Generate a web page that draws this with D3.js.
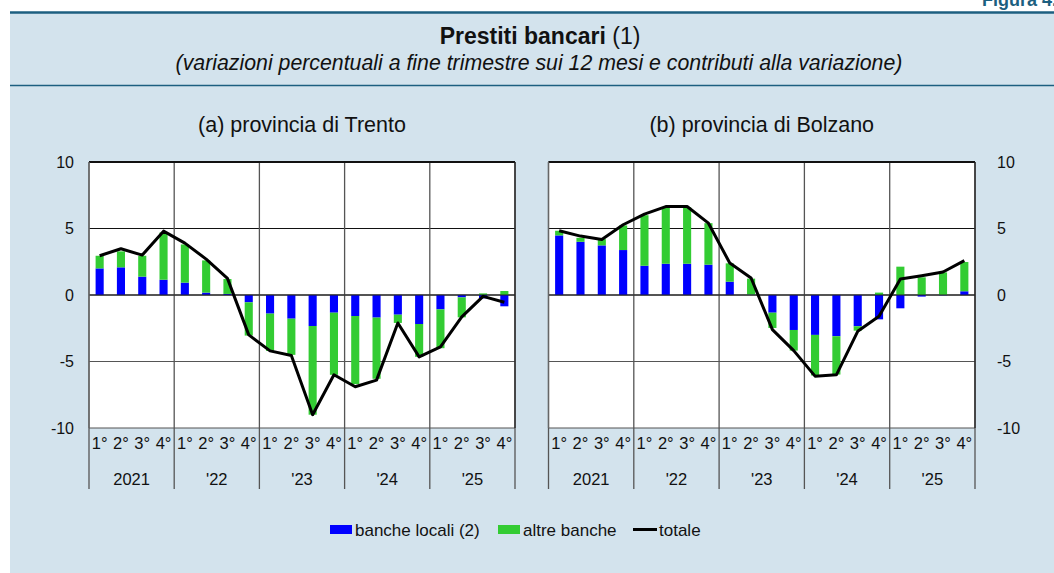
<!DOCTYPE html>
<html>
<head>
<meta charset="utf-8">
<script src="https://cdn.jsdelivr.net/npm/d3@7"></script>
<style>
body { margin: 0; background: #fff; }
svg { display: block; font-family: Arial, "Liberation Sans", sans-serif; }
</style>
</head>
<body>
<div id="chart"></div>
<script>
// quarters and years on the x axis
var quarters = ["1°", "2°", "3°", "4°"];
var years = ["2021", "'22", "'23", "'24", "'25"];

// (a) provincia di Trento
var trentoLocali = [2.0, 2.08, 1.38, 1.15, 0.93, 0.18, 0.08, -0.55, -1.4, -1.78, -2.33, -1.33, -1.58, -1.7, -1.48, -2.18, -1.08, -0.18, -0.25, -0.85];
var trentoAltre = [0.95, 1.2, 1.57, 3.55, 2.87, 2.42, 1.12, -2.5, -2.8, -2.72, -6.67, -4.67, -5.12, -4.6, -0.62, -2.47, -2.92, -1.5, 0.12, 0.3];
var trentoTotale = [2.95, 3.48, 3.0, 4.8, 3.9, 2.7, 1.25, -3.0, -4.2, -4.55, -9.0, -6.0, -6.9, -6.4, -2.1, -4.65, -3.9, -1.65, -0.1, -0.55];

// (b) provincia di Bolzano
var bolzanoLocali = [4.48, 4.0, 3.73, 3.38, 2.2, 2.35, 2.35, 2.28, 1.0, 0.03, -1.33, -2.63, -3.0, -3.1, -2.35, -1.83, -1.0, -0.12, -0.02, 0.28];
var bolzanoAltre = [0.35, 0.3, 0.47, 1.85, 3.8, 4.25, 4.25, 3.12, 1.38, 1.2, -1.15, -1.55, -3.05, -2.88, -0.33, 0.18, 2.13, 1.33, 1.7, 2.2];
var bolzanoTotale = [4.83, 4.43, 4.18, 5.28, 6.08, 6.65, 6.65, 5.4, 2.4, 1.28, -2.6, -4.18, -6.1, -6.0, -2.73, -1.6, 1.2, 1.45, 1.73, 2.58];

var yTicks = [-10, -5, 0, 5, 10];

var colLocali = "#0000ff";
var colAltre = "#33cc33";
var bgCol = "#d3e3ed";
var ruleCol = "#1c5f80";

var W = 1054, H = 573;

var svg = d3.select("#chart").append("svg")
    .attr("width", W)
    .attr("height", H);

// panel background
svg.append("rect")
    .attr("x", 10).attr("y", 12)
    .attr("width", W - 10).attr("height", H - 12)
    .attr("fill", bgCol);

svg.append("line")
    .attr("x1", 10).attr("x2", W).attr("y1", 12.5).attr("y2", 12.5)
    .attr("stroke", ruleCol).attr("stroke-width", 2.5);
svg.append("line")
    .attr("x1", 10).attr("x2", W).attr("y1", 85.5).attr("y2", 85.5)
    .attr("stroke", ruleCol).attr("stroke-width", 1.5);

svg.append("text")
    .attr("x", 1057).attr("y", 6)
    .attr("text-anchor", "end")
    .attr("font-weight", "bold")
    .attr("font-size", 18)
    .attr("fill", ruleCol)
    .text("Figura 4.");

// titles
var t = svg.append("text")
    .attr("x", 540).attr("y", 44)
    .attr("text-anchor", "middle")
    .attr("font-size", 23)
    .attr("fill", "#111");
t.append("tspan").attr("font-weight", "bold").text("Prestiti bancari");
t.append("tspan").text(" (1)");

svg.append("text")
    .attr("x", 539).attr("y", 70)
    .attr("text-anchor", "middle")
    .attr("font-size", 21.3)
    .attr("font-style", "italic")
    .attr("fill", "#111")
    .text("(variazioni percentuali a fine trimestre sui 12 mesi e contributi alla variazione)");

var plotTop = 162, plotBottom = 428;
var y = d3.scaleLinear().domain([-10, 10]).range([plotBottom, plotTop]);

function drawPanel(x0, x1, title, locali, altre, totale, side) {
    var labels = d3.range(years.length * quarters.length);
    var x = d3.scaleBand().domain(labels).range([x0, x1]);
    var bw = x.bandwidth() * 0.38;

    var g = svg.append("g");

    svg.append("text")
        .attr("x", (x0 + x1) / 2).attr("y", 132)
        .attr("text-anchor", "middle")
        .attr("font-size", 21.5)
        .attr("fill", "#111")
        .text(title);

    // plot area
    g.append("rect")
        .attr("x", x0).attr("y", plotTop)
        .attr("width", x1 - x0).attr("height", plotBottom - plotTop)
        .attr("fill", "#fff");

    // horizontal grid
    g.selectAll(".hg").data(yTicks).enter().append("line")
        .attr("x1", x0).attr("x2", x1)
        .attr("y1", function(d) { return y(d); })
        .attr("y2", function(d) { return y(d); })
        .attr("stroke", function(d) { return d == -5 || d == -10 ? "#555" : "#111"; })
        .attr("stroke-width", 1.2);

    // year separators, down into the axis area
    var seps = d3.range(years.length + 1).map(function(j) { return x0 + j * 4 * x.bandwidth(); });
    g.selectAll(".vg").data(seps).enter().append("line")
        .attr("x1", function(d) { return d; }).attr("x2", function(d) { return d; })
        .attr("y1", plotTop).attr("y2", 489)
        .attr("stroke", "#555")
        .attr("stroke-width", 1.3);

    // stacked bars
    var table = locali.map(function(v, i) { return { i: i, locali: v, altre: altre[i] }; });
    var stack = d3.stack().keys(["locali", "altre"]).offset(d3.stackOffsetDiverging)(table);
    var colors = { locali: colLocali, altre: colAltre };
    stack.forEach(function(s) {
        g.selectAll(".b" + s.key).data(s).enter().append("rect")
            .attr("x", function(d) { return x(d.data.i) + (x.bandwidth() - bw) / 2; })
            .attr("width", bw)
            .attr("y", function(d) { return y(Math.max(d[0], d[1])); })
            .attr("height", function(d) { return Math.abs(y(d[0]) - y(d[1])); })
            .attr("fill", colors[s.key]);
    });

    // zero line above bars
    g.append("line")
        .attr("x1", x0).attr("x2", x1)
        .attr("y1", y(0)).attr("y2", y(0))
        .attr("stroke", "#222").attr("stroke-width", 1);

    // total
    var line = d3.line()
        .x(function(d, i) { return x(i) + x.bandwidth() / 2; })
        .y(function(d) { return y(d); });
    g.append("path")
        .datum(totale)
        .attr("d", line)
        .attr("fill", "none")
        .attr("stroke", "#000")
        .attr("stroke-width", 3)
        .attr("stroke-linejoin", "round");

    // frame
    g.append("line")
        .attr("x1", x0).attr("x2", x1).attr("y1", plotTop).attr("y2", plotTop)
        .attr("stroke", "#111").attr("stroke-width", 2);
    g.append("line")
        .attr("x1", x1).attr("x2", x1).attr("y1", plotTop).attr("y2", plotBottom)
        .attr("stroke", "#222").attr("stroke-width", 1.3);
    g.append("line")
        .attr("x1", x0).attr("x2", x0).attr("y1", plotTop).attr("y2", plotBottom)
        .attr("stroke", "#666").attr("stroke-width", 1.3);

    // y axis labels
    var yAxis = side == "left" ? d3.axisLeft(y) : d3.axisRight(y);
    yAxis.tickValues(yTicks).tickSize(0).tickPadding(0)
        .tickFormat(function(d) { return String(d); });
    var ya = svg.append("g")
        .attr("transform", "translate(" + (side == "left" ? 74 : 997) + ",0)")
        .call(yAxis);
    ya.select(".domain").remove();
    ya.selectAll("text")
        .attr("font-size", 16)
        .attr("font-family", "Arial, 'Liberation Sans', sans-serif")
        .attr("fill", "#111");

    // quarter labels
    var xAxis = d3.axisBottom(x).tickSize(0).tickPadding(0)
        .tickFormat(function(d) { return quarters[d % 4]; });
    var xa = svg.append("g")
        .attr("transform", "translate(0," + 437 + ")")
        .call(xAxis);
    xa.select(".domain").remove();
    xa.selectAll("text")
        .attr("font-size", 16.5)
        .attr("font-family", "Arial, 'Liberation Sans', sans-serif")
        .attr("fill", "#111");

    // year labels
    svg.selectAll(null).data(years).enter().append("text")
        .attr("x", function(d, j) { return x0 + (j * 4 + 2) * x.bandwidth(); })
        .attr("y", 485)
        .attr("text-anchor", "middle")
        .attr("font-size", 16.5)
        .attr("fill", "#111")
        .text(function(d) { return d; });
}

drawPanel(89, 515, "(a) provincia di Trento", trentoLocali, trentoAltre, trentoTotale, "left");
drawPanel(548.5, 975, "(b) provincia di Bolzano", bolzanoLocali, bolzanoAltre, bolzanoTotale, "right");

// legend
var lg = svg.append("g").attr("font-size", 17).attr("fill", "#111");
lg.append("rect").attr("x", 330).attr("y", 525).attr("width", 22).attr("height", 9).attr("fill", colLocali);
lg.append("text").attr("x", 355).attr("y", 535.5).text("banche locali (2)");
lg.append("rect").attr("x", 498).attr("y", 525).attr("width", 22).attr("height", 9).attr("fill", colAltre);
lg.append("text").attr("x", 523).attr("y", 535.5).text("altre banche");
lg.append("line").attr("x1", 633).attr("x2", 657).attr("y1", 529.5).attr("y2", 529.5)
    .attr("stroke", "#000").attr("stroke-width", 3);
lg.append("text").attr("x", 659).attr("y", 535.5).text("totale");
</script>
</body>
</html>
